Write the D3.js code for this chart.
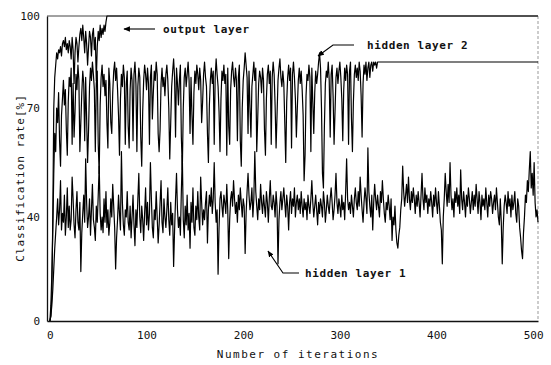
<!DOCTYPE html>
<html>
<head>
<meta charset="utf-8">
<script src="https://cdn.jsdelivr.net/npm/d3@7"></script>
<style>
  body { margin: 0; background: #fff; }
  text { font-family: 'DejaVu Sans Mono', 'Liberation Mono', monospace; fill: #111; }
</style>
</head>
<body>
<div id="chart"></div>
<script>
// iterations 0..59, one value per iteration, then it sits at 100
const outputLayer = [0, 2, 10, 40, 70, 80, 84, 88, 86, 89, 88, 90, 87, 91, 92, 90, 93, 89, 91, 88,
  92, 90, 86, 93, 89, 78, 88, 93, 91, 85, 90, 94, 96, 92, 97, 93, 88, 95, 91, 84,
  90, 95, 93, 87, 94, 96, 89, 93, 79, 90, 95, 92, 97, 93, 96, 94, 97, 95, 98, 100];

// iterations 0..340, then flat
const hiddenLayer2 = [
  0, 6, 18, 35, 52, 63, 58, 70, 66, 75, 61, 54, 68, 73, 79, 71, 76, 64, 57, 72,
  80, 77, 83, 60, 78, 62, 69, 81, 76, 84, 79, 58, 66, 75, 82, 78, 61, 80, 67, 55,
  64, 77, 83, 79, 85, 81, 76, 58, 78, 82, 60, 52, 71, 80, 84, 77, 81, 74, 79, 66,
  59, 83, 78, 66, 63, 75, 82, 85, 79, 83, 76, 68, 57, 73, 81, 77, 84, 80, 60, 78,
  82, 65, 59, 76, 83, 79, 61, 81, 85, 78, 58, 77, 83, 80, 62, 54, 69, 79, 84, 81,
  76, 83, 78, 60, 80, 84, 67, 75, 82, 79, 85, 81, 63, 58, 64, 78, 83, 77, 80, 74,
  81, 84, 79, 70, 56, 66, 77, 82, 86, 80, 62, 83, 78, 71, 79, 84, 62, 53, 70, 80,
  83, 77, 81, 85, 79, 63, 80, 68, 60, 75, 82, 78, 84, 81, 76, 83, 79, 66, 72, 81,
  85, 80, 77, 63, 55, 71, 79, 83, 78, 82, 60, 80, 86, 81, 77, 69, 58, 73, 82, 79,
  84, 78, 81, 57, 83, 65, 60, 76, 82, 85, 80, 77, 83, 79, 61, 80, 84, 61, 54, 70,
  79, 83, 88, 84, 80, 63, 82, 70, 62, 77, 81, 85, 79, 83, 58, 67, 78, 82, 80, 75,
  83, 79, 64, 57, 73, 81, 84, 78, 82, 60, 80, 85, 81, 71, 59, 68, 79, 83, 86, 80,
  77, 82, 78, 66, 55, 72, 80, 84, 79, 83, 59, 81, 85, 80, 73, 62, 70, 79, 83, 78,
  82, 76, 68, 50, 57, 74, 81, 79, 84, 80, 58, 83, 72, 63, 75, 82, 78, 81, 85, 88,
  83, 70, 52, 48, 65, 78, 82, 80, 85, 79, 62, 81, 84, 74, 60, 69, 80, 83, 78, 82,
  85, 80, 73, 61, 76, 83, 79, 84, 81, 60, 82, 85, 67, 58, 72, 81, 84, 80, 83, 79,
  85, 82, 74, 62, 78, 84, 81, 85, 79, 83, 85, 80, 84, 85, 82, 85, 84, 85, 83, 85, 85];
const hidden2Flat = 85;

// iterations 0..505
const hiddenLayer1 = [
  0, 2, 6, 12, 20, 28, 34, 40, 45, 37, 42, 50, 35, 41, 38, 46, 33, 40, 48, 36,
  43, 35, 39, 51, 45, 37, 32, 42, 47, 38, 35, 44, 19, 34, 41, 46, 38, 56, 44, 36,
  40, 45, 33, 42, 49, 39, 36, 31, 43, 38, 46, 54, 41, 35, 40, 34, 45, 38, 47, 36,
  42, 33, 38, 45, 40, 49, 43, 36, 20, 32, 39, 46, 41, 35, 58, 44, 37, 33, 42, 40,
  47, 38, 35, 43, 32, 40, 46, 37, 29, 42, 36, 45, 52, 40, 34, 43, 39, 31, 41, 48,
  37, 44, 35, 41, 55, 45, 36, 32, 42, 39, 47, 40, 30, 37, 44, 50, 38, 34, 45, 40,
  36, 42, 48, 39, 33, 44, 37, 41, 21, 35, 45, 52, 42, 36, 40, 33, 47, 57, 39, 32,
  43, 37, 46, 35, 41, 28, 44, 38, 48, 36, 33, 43, 39, 47, 40, 35, 51, 44, 37, 42,
  39, 44, 47, 30, 42, 46, 43, 48, 41, 45, 55, 44, 38, 42, 18, 36, 45, 47, 43, 40,
  46, 44, 41, 49, 42, 24, 39, 45, 47, 43, 50, 45, 41, 44, 38, 46, 42, 48, 44, 40,
  45, 43, 26, 41, 47, 52, 46, 42, 44, 48, 40, 45, 58, 47, 43, 39, 45, 42, 49, 44,
  41, 46, 43, 40, 47, 44, 38, 45, 50, 43, 42, 46, 44, 40, 47, 43, 22, 39, 44, 47,
  42, 45, 48, 44, 40, 46, 43, 35, 44, 47, 41, 45, 43, 48, 40, 44, 46, 42, 45, 41,
  47, 43, 40, 45, 42, 44, 39, 46, 43, 41, 45, 50, 44, 40, 43, 46, 42, 37, 44, 41,
  45, 43, 40, 47, 44, 38, 42, 46, 43, 41, 45, 48, 44, 39, 42, 46, 52, 44, 41, 45,
  43, 40, 46, 42, 44, 39, 47, 56, 45, 42, 44, 41, 46, 43, 40, 45, 48, 44, 42, 47,
  43, 51, 46, 42, 38, 44, 48, 45, 41, 59, 47, 43, 40, 46, 35, 44, 49, 45, 42, 46,
  43, 40, 47, 44, 50, 45, 41, 38, 44, 42, 46, 43, 39, 45, 31, 40, 37, 43, 35, 30,
  28, 33, 36, 42, 45, 54, 47, 43, 46, 49, 44, 51, 45, 42, 47, 44, 48, 45, 41, 46,
  43, 47, 44, 40, 46, 52, 45, 42, 48, 44, 46, 41, 45, 43, 47, 44, 40, 46, 43, 48,
  44, 41, 47, 43, 38, 35, 22, 40, 45, 52, 47, 43, 49, 44, 55, 46, 42, 45, 40, 47,
  44, 48, 43, 46, 41, 53, 45, 42, 47, 44, 40, 46, 43, 48, 45, 41, 44, 47, 42, 46,
  43, 49, 45, 41, 47, 44, 39, 46, 43, 45, 42, 48, 44, 40, 46, 43, 47, 45, 41, 44,
  46, 42, 48, 44, 40, 37, 45, 38, 22, 36, 43, 46, 44, 41, 47, 43, 45, 40, 46, 42,
  44, 47, 41, 38, 45, 43, 36, 32, 27, 24, 34, 40, 46, 44, 50, 47, 53, 58, 48, 52,
  46, 55, 44, 40, 42, 38];

const xTicks = [0, 100, 200, 300, 400, 500];
const yTicks = [0, 40, 70, 100];
const lastIter = 505;

var width = 551, height = 365;

var svg = d3.select('#chart')
  .append('svg')
  .attr('width', width)
  .attr('height', height);

// scanned original is slightly uneven vertically, so the y scale is piecewise
const x = d3.scaleLinear().domain([-3, lastIter]).range([47, 538]);
const y = d3.scaleLinear().domain([0, 40, 70, 100]).range([321, 217, 108, 16]);

// turn arrays into points
const outPts = outputLayer.map((v, i) => [i, v]);
outPts.push([lastIter, 100]);
const h2Pts = hiddenLayer2.map((v, i) => [i, v]);
h2Pts.push([lastIter, hidden2Flat]);
const h1Pts = hiddenLayer1.map((v, i) => [i, v]);

const line = d3.line()
  .x(d => x(d[0]))
  .y(d => y(d[1]));

// frame (top + right are faint in the scan)
svg.append('line')
  .attr('x1', x(-3)).attr('x2', x(lastIter))
  .attr('y1', y(100)).attr('y2', y(100))
  .attr('stroke', '#444').attr('stroke-width', 1);
svg.append('line')
  .attr('x1', x(lastIter)).attr('x2', x(lastIter))
  .attr('y1', y(100)).attr('y2', y(0))
  .attr('stroke', '#999').attr('stroke-width', 1)
  .attr('stroke-dasharray', '3,2');

// series
[h1Pts, h2Pts, outPts].forEach(pts => {
  svg.append('path')
    .datum(pts)
    .attr('fill', 'none')
    .attr('stroke', '#000')
    .attr('stroke-width', 1.2)
    .attr('stroke-linejoin', 'round')
    .attr('d', line);
});

// axes
const xAxis = svg.append('g')
  .attr('transform', `translate(0, ${y(0)})`)
  .call(d3.axisBottom(x).tickValues(xTicks).tickSize(0).tickPadding(10));
const yAxis = svg.append('g')
  .attr('transform', `translate(${x(-3)}, 0)`)
  .call(d3.axisLeft(y).tickValues(yTicks).tickSize(0).tickPadding(7));

[xAxis, yAxis].forEach(g => {
  g.select('.domain').attr('stroke', '#111').attr('stroke-width', 1.3);
  g.selectAll('text')
    .style('font-family', "'DejaVu Sans Mono', monospace")
    .style('font-size', '11px')
    .attr('fill', '#111');
});

// axis titles
svg.append('text')
  .attr('x', 298)
  .attr('y', 358)
  .attr('text-anchor', 'middle')
  .style('font-size', '11px')
  .style('letter-spacing', '1.5px')
  .text('Number of iterations');

svg.append('text')
  .attr('text-anchor', 'middle')
  .attr('transform', 'translate(24,' + 178 + ')rotate(-90)')
  .style('font-size', '11px')
  .style('letter-spacing', '1px')
  .text('Classification rate[%]');

// arrowhead
svg.append('defs')
  .append('marker')
  .attr('id', 'arrow')
  .attr('viewBox', '0 0 10 10')
  .attr('refX', 9).attr('refY', 5)
  .attr('markerWidth', 6).attr('markerHeight', 6)
  .attr('orient', 'auto')
  .append('path')
  .attr('d', 'M0,1L10,5L0,9Z')
  .attr('fill', '#000');

// labels with leader lines
const labels = [
  { text: 'output layer', tx: 163, ty: 33, path: [[155, 29], [124, 29]] },
  { text: 'hidden layer 2', tx: 367, ty: 49, path: [[354, 45], [333, 45], [318, 56]] },
  { text: 'hidden layer 1', tx: 305, ty: 277, path: [[299, 273], [283, 273], [268, 251]] }
];

labels.forEach(l => {
  svg.append('path')
    .attr('d', d3.line()(l.path))
    .attr('fill', 'none')
    .attr('stroke', '#000')
    .attr('stroke-width', 1.1)
    .attr('marker-end', 'url(#arrow)');
  svg.append('text')
    .attr('x', l.tx)
    .attr('y', l.ty)
    .style('font-size', '11px')
    .style('font-weight', 'bold')
    .style('letter-spacing', '0.6px')
    .text(l.text);
});
</script>
</body>
</html>
